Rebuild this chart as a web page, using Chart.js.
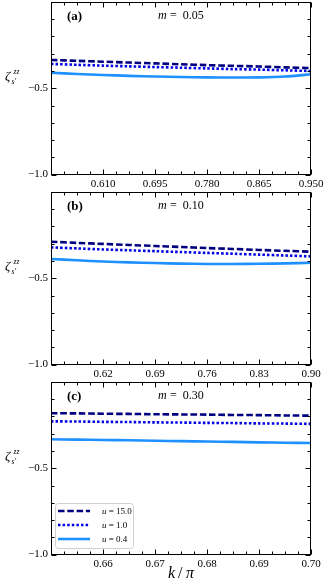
<!DOCTYPE html>
<html>
<head>
<meta charset="utf-8">
<script src="https://cdn.jsdelivr.net/npm/chart.js@4/dist/chart.umd.min.js"></script>
<style>
  html, body { margin: 0; padding: 0; background: #fff; }
  #wrap { position: relative; width: 327px; height: 586px; }
  canvas { position: absolute; left: 0; }
</style>
</head>
<body>
<div id="wrap">
  <canvas id="panelA" width="327" height="190" style="top:0px"></canvas>
  <canvas id="panelB" width="327" height="190" style="top:190px"></canvas>
  <canvas id="panelC" width="327" height="206" style="top:380px"></canvas>
</div>
<script>
// legend values of u
const uValues = ['15.0', '1.0', '0.4'];

// y axis (same for all panels)
const yTicks = [-1.0, -0.5];
const yTickLabels = ['\u22121.0', '\u22120.5'];

// panel (a), m = 0.05
const kA = [0.525, 0.5675, 0.61, 0.6525, 0.695, 0.7375, 0.78, 0.8225, 0.865, 0.9075, 0.95];
const u15A = [-0.336, -0.341, -0.346, -0.351, -0.356, -0.361, -0.366, -0.370, -0.374, -0.379, -0.383];
const u1A = [-0.359, -0.364, -0.369, -0.373, -0.377, -0.381, -0.385, -0.389, -0.392, -0.396, -0.400];
const u04A = [-0.410, -0.417, -0.423, -0.428, -0.432, -0.435, -0.437, -0.438, -0.437, -0.432, -0.419];
const xTicksA = [0.610, 0.695, 0.780, 0.865, 0.950];
const xTickLabelsA = ['0.610', '0.695', '0.780', '0.865', '0.950'];

// panel (b), m = 0.10
const kB = [0.55, 0.585, 0.62, 0.655, 0.69, 0.725, 0.76, 0.795, 0.83, 0.865, 0.90];
const u15B = [-0.288, -0.295, -0.301, -0.307, -0.313, -0.319, -0.325, -0.330, -0.336, -0.341, -0.346];
const u1B = [-0.321, -0.327, -0.333, -0.338, -0.343, -0.348, -0.353, -0.358, -0.363, -0.368, -0.373];
const u04B = [-0.388, -0.396, -0.403, -0.408, -0.412, -0.415, -0.417, -0.417, -0.416, -0.414, -0.410];
const xTicksB = [0.62, 0.69, 0.76, 0.83, 0.90];
const xTickLabelsB = ['0.62', '0.69', '0.76', '0.83', '0.90'];

// panel (c), m = 0.30
const kC = [0.65, 0.655, 0.66, 0.665, 0.67, 0.675, 0.68, 0.685, 0.69, 0.695, 0.70];
const u15C = [-0.181, -0.182, -0.184, -0.185, -0.187, -0.188, -0.189, -0.191, -0.192, -0.194, -0.195];
const u1C = [-0.228, -0.229, -0.231, -0.232, -0.234, -0.235, -0.237, -0.238, -0.240, -0.241, -0.243];
const u04C = [-0.332, -0.334, -0.336, -0.338, -0.341, -0.343, -0.345, -0.347, -0.350, -0.352, -0.354];
const xTicksC = [0.66, 0.67, 0.68, 0.69, 0.70];
const xTickLabelsC = ['0.66', '0.67', '0.68', '0.69', '0.70'];

const SERIF = '"Liberation Serif", "DejaVu Serif", serif';

function zip(xs, ys) {
  return xs.map((x, i) => ({ x: x, y: ys[i] }));
}

// frame, inward ticks, annotations, legend
const decor = {
  id: 'decor',
  afterDraw(chart, args, o) {
    const ctx = chart.ctx;
    const a = chart.chartArea;
    const sx = chart.scales.x, sy = chart.scales.y;
    const L = Math.floor(a.left) + 0.5, R = Math.round(a.right) - 0.5;
    const T = Math.floor(a.top) + 0.5, B = Math.round(a.bottom) - 0.5;
    ctx.save();
    ctx.strokeStyle = '#000';
    ctx.lineWidth = 1;
    ctx.setLineDash([]);
    ctx.strokeRect(L, T, R - L, B - T);

    function xTick(v, len) {
      const px = Math.round(sx.getPixelForValue(v)) + 0.5;
      ctx.beginPath();
      ctx.moveTo(px, B); ctx.lineTo(px, B - len);
      ctx.moveTo(px, T); ctx.lineTo(px, T + len);
      ctx.stroke();
    }
    function yTick(v, len) {
      const py = Math.round(sy.getPixelForValue(v)) + 0.5;
      ctx.beginPath();
      ctx.moveTo(L, py); ctx.lineTo(L + len, py);
      ctx.moveTo(R, py); ctx.lineTo(R - len, py);
      ctx.stroke();
    }
    const step = o.majors[1] - o.majors[0];
    const minor = step / 4;
    for (let v = sx.min; v <= sx.max + minor / 10; v += minor) {
      const isMajor = o.majors.some(m => Math.abs(m - v) < minor / 10);
      xTick(v, isMajor ? 5 : 3);
    }
    for (let j = 0; j <= 10; j++) {
      const v = -1 + j * 0.1;
      yTick(v, j % 5 === 0 ? 5 : 3);
    }

    ctx.fillStyle = '#000';
    ctx.textBaseline = 'alphabetic';
    ctx.textAlign = 'left';
    // panel tag
    ctx.font = 'bold 13px ' + SERIF;
    ctx.fillText(o.tag, 67, 20);
    // m = ...
    ctx.font = 'italic 12px ' + SERIF;
    ctx.fillText('m', 158, 19);
    ctx.font = '12px ' + SERIF;
    ctx.fillText(' =  ' + o.m, 167, 19);

    // y label zeta
    ctx.font = 'italic 13px ' + SERIF;
    ctx.fillText('\u03b6', 5, 80);
    ctx.font = 'italic 7.5px ' + SERIF;
    ctx.fillText('zz', 13.5, 74);
    ctx.fillText('s\u2032', 11.5, 84);

    if (o.xTitle) {
      ctx.font = 'italic 16px ' + SERIF;
      ctx.fillText('k', 168, 198);
      ctx.font = '16px ' + SERIF;
      ctx.fillText('/', 178, 198);
      ctx.font = 'italic 16px ' + SERIF;
      ctx.fillText('\u03c0', 186, 198);
    }

    if (o.legend) {
      const bx = 55.5, by = 123.5, bw = 78, bh = 45, r = 3;
      ctx.beginPath();
      ctx.moveTo(bx + r, by);
      ctx.arcTo(bx + bw, by, bx + bw, by + bh, r);
      ctx.arcTo(bx + bw, by + bh, bx, by + bh, r);
      ctx.arcTo(bx, by + bh, bx, by, r);
      ctx.arcTo(bx, by, bx + bw, by, r);
      ctx.closePath();
      ctx.fillStyle = 'rgba(255,255,255,0.85)';
      ctx.fill();
      ctx.strokeStyle = '#d0d0d0';
      ctx.lineWidth = 1;
      ctx.stroke();
      chart.data.datasets.forEach((ds, i) => {
        const cy = 131 + i * 14;
        ctx.save();
        ctx.strokeStyle = ds.borderColor;
        ctx.lineWidth = ds.borderWidth;
        ctx.setLineDash(ds.borderDash || []);
        ctx.lineCap = 'butt';
        ctx.beginPath();
        ctx.moveTo(58, cy);
        ctx.lineTo(90, cy);
        ctx.stroke();
        ctx.restore();
        ctx.fillStyle = '#000';
        ctx.font = 'italic 9px ' + SERIF;
        ctx.fillText('u', 102, cy + 3);
        ctx.font = '9px ' + SERIF;
        ctx.fillText(' = ' + uValues[i], 106.5, cy + 3);
      });
    }
    ctx.restore();
  }
};

function makePanel(id, k, s15, s1, s04, xTicks, xLabels, xAxisH, deco) {
  return new Chart(document.getElementById(id), {
    type: 'line',
    data: {
      datasets: [
        { label: 'u = ' + uValues[0], data: zip(k, s15), borderColor: '#000080', borderWidth: 2.6, borderDash: [6.5, 2.8] },
        { label: 'u = ' + uValues[1], data: zip(k, s1), borderColor: '#0000e6', borderWidth: 2.6, borderDash: [2.5, 2.1] },
        { label: 'u = ' + uValues[2], data: zip(k, s04), borderColor: '#1e90ff', borderWidth: 2.6 }
      ]
    },
    options: {
      responsive: false,
      animation: false,
      layout: { padding: { top: 2, right: 16, left: 0, bottom: 0 } },
      elements: { point: { radius: 0 }, line: { tension: 0.2, borderCapStyle: 'butt' } },
      plugins: { legend: { display: false }, tooltip: { enabled: false }, decor: deco },
      scales: {
        x: {
          type: 'linear',
          min: k[0],
          max: k[k.length - 1],
          grid: { display: false, drawTicks: false },
          border: { display: false },
          afterBuildTicks: s => { s.ticks = xTicks.map(v => ({ value: v })); },
          afterFit: s => { s.height = xAxisH; s.paddingLeft = 0; s.paddingRight = 0; },
          ticks: {
            autoSkip: false, maxRotation: 0, padding: 3, color: '#000',
            font: { family: SERIF, size: 11 },
            callback: (v, i) => xLabels[i]
          }
        },
        y: {
          min: -1,
          max: 0,
          grid: { display: false, drawTicks: false },
          border: { display: false },
          afterBuildTicks: s => { s.ticks = yTicks.map(v => ({ value: v })); },
          afterFit: s => { s.width = 51; s.paddingTop = 0; s.paddingBottom = 0; },
          ticks: {
            padding: 3, color: '#000',
            font: { family: SERIF, size: 11 },
            callback: (v, i) => yTickLabels[i]
          }
        }
      }
    },
    plugins: [decor]
  });
}

makePanel('panelA', kA, u15A, u1A, u04A, xTicksA, xTickLabelsA, 15.5,
  { tag: '(a)', m: '0.05', majors: xTicksA });
makePanel('panelB', kB, u15B, u1B, u04B, xTicksB, xTickLabelsB, 15.5,
  { tag: '(b)', m: '0.10', majors: xTicksB });
makePanel('panelC', kC, u15C, u1C, u04C, xTicksC, xTickLabelsC, 31.5,
  { tag: '(c)', m: '0.30', majors: xTicksC, legend: true, xTitle: true });
</script>
</body>
</html>
